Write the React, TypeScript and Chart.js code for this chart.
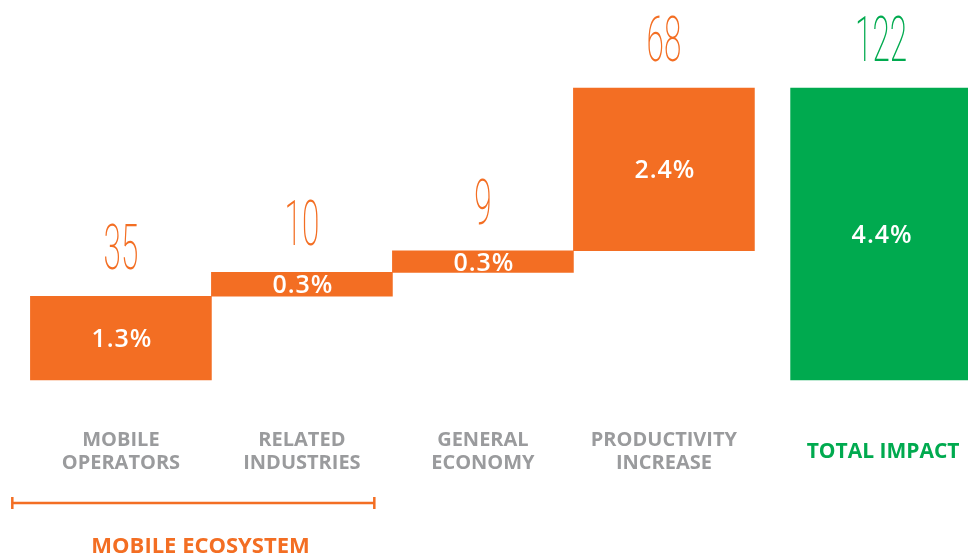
import React, { useEffect, useRef } from "react";
import { Chart, registerables } from "chart.js";

Chart.register(...registerables);

const categories: string[][] = [
  ["MOBILE", "OPERATORS"],
  ["RELATED", "INDUSTRIES"],
  ["GENERAL", "ECONOMY"],
  ["PRODUCTIVITY", "INCREASE"],
  ["TOTAL IMPACT"],
];
const contributions: number[] = [35, 10, 9, 68];
const totalValue = 122;
const valueLabels: string[] = ["35", "10", "9", "68", "122"];
const percentLabels: string[] = ["1.3%", "0.3%", "0.3%", "2.4%", "4.4%"];
const groupLabel = "MOBILE ECOSYSTEM";

const ORANGE = "#F36E23";
const GREEN = "#00AA4F";
const GRAY = "#9A9B9D";
const TOTAL_GAP = 0.2;

export default function App() {
  const ref = useRef<HTMLCanvasElement | null>(null);

  useEffect(() => {
    if (!ref.current) return;
    let run = 0;
    const data: { x: number; y: [number, number] }[] = contributions.map((v, i) => {
      const r: [number, number] = [run, run + v];
      run += v;
      return { x: i, y: r };
    });
    data.push({ x: contributions.length + TOTAL_GAP, y: [0, totalValue] });
    const colors = data.map((_, i) => (i < contributions.length ? ORANGE : GREEN));

    const labelPlugin = {
      id: "labels",
      afterDatasetsDraw(chart: any) {
        const ctx = chart.ctx as CanvasRenderingContext2D;
        const xs = chart.scales.x;
        const ys = chart.scales.y;
        const zero = ys.getPixelForValue(0);
        ctx.save();
        data.forEach((d, i) => {
          const cx = xs.getPixelForValue(d.x);
          const top = ys.getPixelForValue(d.y[1]);
          const bot = ys.getPixelForValue(d.y[0]);
          const color = colors[i];
          ctx.save();
          ctx.fillStyle = color;
          ctx.font = "200 63px Roboto";
          ctx.textAlign = "center";
          ctx.textBaseline = "alphabetic";
          ctx.translate(cx, top - 27);
          ctx.scale(0.5, 1);
          ctx.fillText(valueLabels[i], 0, 0);
          ctx.restore();
          ctx.save();
          ctx.fillStyle = "#ffffff";
          ctx.font = "600 25px 'Open Sans'";
          (ctx as any).letterSpacing = "1px";
          ctx.textAlign = "center";
          ctx.textBaseline = "alphabetic";
          ctx.fillText(percentLabels[i], cx + 1, (top + bot) / 2 + 9);
          ctx.restore();
          const lines = categories[i];
          ctx.textAlign = "center";
          ctx.textBaseline = "alphabetic";
          if (i < contributions.length) {
            ctx.fillStyle = GRAY;
            ctx.font = "bold 20px 'Open Sans'";
            lines.forEach((ln, k) => ctx.fillText(ln, cx, zero + 66 + k * 23));
          } else {
            ctx.fillStyle = GREEN;
            ctx.font = "bold 21px 'Open Sans'";
            ctx.fillText(lines[0], cx + 2, zero + 78);
          }
        });
        const bx1 = xs.getPixelForValue(-0.6);
        const bx2 = xs.getPixelForValue(1.4);
        const by = zero + 123;
        ctx.strokeStyle = ORANGE;
        ctx.lineWidth = 2.5;
        ctx.beginPath();
        ctx.moveTo(bx1, by);
        ctx.lineTo(bx2, by);
        ctx.moveTo(bx1, by - 6);
        ctx.lineTo(bx1, by + 6);
        ctx.moveTo(bx2, by - 6);
        ctx.lineTo(bx2, by + 6);
        ctx.stroke();
        ctx.fillStyle = ORANGE;
        ctx.font = "bold 22px 'Open Sans'";
        ctx.textAlign = "center";
        ctx.fillText(groupLabel, xs.getPixelForValue(0.44), zero + 173);
        ctx.restore();
      },
    };

    const chart = new Chart(ref.current, {
      type: "bar",
      data: {
        datasets: [
          {
            data: data as any,
            backgroundColor: colors,
            borderWidth: 0,
            barPercentage: 1,
            categoryPercentage: 1,
          },
        ],
      },
      options: {
        animation: false,
        responsive: false,
        layout: { padding: 0 },
        plugins: { legend: { display: false }, tooltip: { enabled: false } },
        scales: {
          x: {
            type: "linear",
            display: false,
            offset: false,
            min: -0.668,
            max: 4.68,
            afterBuildTicks: (s: any) => {
              s.ticks = [];
            },
          },
          y: { display: false, min: -74.4, max: 158.8 },
        },
      },
      plugins: [labelPlugin],
    });
    return () => chart.destroy();
  }, []);

  return (
    <div style={{ position: "absolute", left: 0, top: 0, width: 968, height: 558, background: "#fff" }}>
      <canvas ref={ref} width={968} height={558} style={{ display: "block" }} />
    </div>
  );
}
